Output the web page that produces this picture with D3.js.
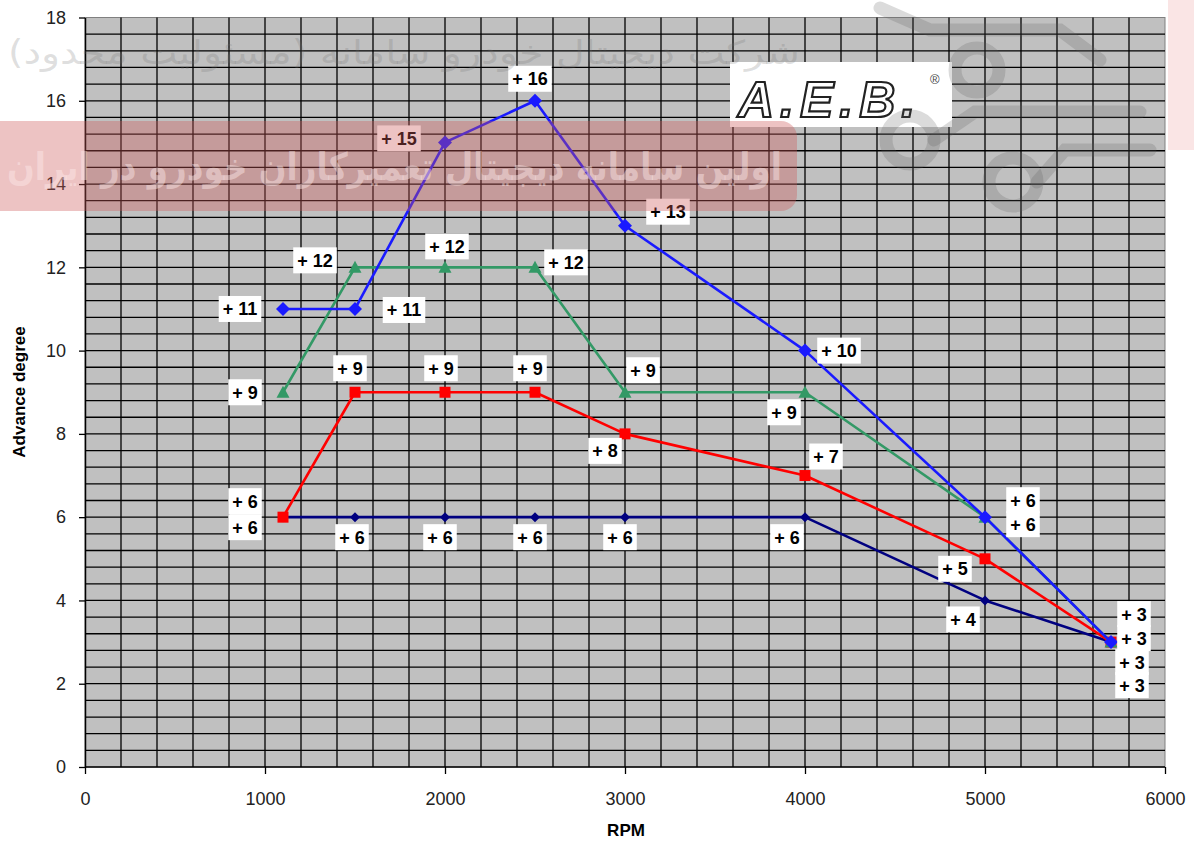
<!DOCTYPE html>
<html>
<head>
<meta charset="utf-8">
<script src="https://cdn.jsdelivr.net/npm/d3@7"></script>
<style>
  body { margin: 0; background: #fff; }
  svg { display: block; font-family: "Liberation Sans", Arial, sans-serif; }
</style>
</head>
<body>
<div id="chart"></div>
<script>
// ---- data ----
const rpm = [1100, 1500, 2000, 2500, 3000, 4000, 5000, 5700];
const advNavy  = [6, 6, 6, 6, 6, 6, 4, 3];
const advRed   = [6, 9, 9, 9, 8, 7, 5, 3];
const advGreen = [9, 12, 12, 12, 9, 9, 6, 3];
const advBlue  = [11, 11, 15, 16, 13, 10, 6, 3];
const xTicks = [0, 1000, 2000, 3000, 4000, 5000, 6000];
const yTicks = [0, 2, 4, 6, 8, 10, 12, 14, 16, 18];
const xTitle = "RPM";
const yTitle = "Advance degree";

// label placement around each point (px, layout only)
const offNavy  = [[-38, 10], [-3, 20], [-5, 20], [-5, 20], [-5, 20], [-18, 20], [-22, 19], [21, 43]];
const offRed   = [[-38, -16], [-5, -24], [-4, -24], [-5, -24], [-20, 17], [21, -19], [-30, 10], [21, 20]];
const offGreen = [[-38, 0], [-40, -7], [2, -21], [31, -5], [18, -22], [-21, 20], [38, 7], [23, -4]];
const offBlue  = [[-43, 0], [49, 1], [-46, -4], [-5, -22], [43, -14], [34, 0], [38, -17], [23, -28]];

const W = 1194, H = 844;
const svg = d3.select("#chart").append("svg").attr("width", W).attr("height", H);

const x = d3.scaleLinear().domain([0, 6000]).range([85, 1165]);
const y = d3.scaleLinear().domain([0, 18]).range([767, 17.5]);

// plot background
svg.append("rect")
  .attr("x", x(0)).attr("y", y(18))
  .attr("width", x(6000) - x(0)).attr("height", y(0) - y(18))
  .attr("fill", "#c0c0c0").attr("stroke", "#808080").attr("stroke-width", 1);

// grid (minor every 200 rpm / 0.4 deg)
const gx = d3.range(200, 6000, 200);
const gy = d3.range(1, 45).map(i => i * 0.4);
const grid = svg.append("g").attr("stroke", "#000").attr("stroke-width", 1.3);
grid.selectAll("line.v").data(gx).enter().append("line")
  .attr("x1", d => x(d)).attr("x2", d => x(d))
  .attr("y1", y(0)).attr("y2", y(18));
grid.selectAll("line.h").data(gy).enter().append("line")
  .attr("y1", d => y(d)).attr("y2", d => y(d))
  .attr("x1", x(0)).attr("x2", x(6000));

// axes
const xAxis = svg.append("g").attr("transform", `translate(0,${y(0)})`)
  .call(d3.axisBottom(x).tickValues(xTicks).tickFormat(d3.format("d"))
    .tickSize(7).tickPadding(18).tickSizeOuter(0));
const yAxis = svg.append("g").attr("transform", `translate(${x(0)},0)`)
  .call(d3.axisLeft(y).tickValues(yTicks).tickSize(6).tickPadding(13).tickSizeOuter(0));
[xAxis, yAxis].forEach(a => {
  a.selectAll("path.domain").attr("stroke", "#000").attr("stroke-width", 1.5);
  a.selectAll(".tick line").attr("stroke", "#000").attr("stroke-width", 1.3);
  a.selectAll("text").attr("font-size", 18).attr("fill", "#222")
    .attr("font-family", "'Liberation Sans', Arial, sans-serif");
});
xAxis.select("path.domain").attr("d", `M${x(0)},0H${x(6000)}`);

svg.append("text").attr("x", 626).attr("y", 836).attr("text-anchor", "middle")
  .attr("font-size", 17).attr("font-weight", "bold").text(xTitle);
svg.append("text").attr("transform", "translate(25,392) rotate(-90)").attr("text-anchor", "middle")
  .attr("font-size", 17).attr("font-weight", "bold").text(yTitle);

// series
const series = [
  { vals: advNavy,  offs: offNavy,  color: "#000080", marker: "navyDiamond" },
  { vals: advRed,   offs: offRed,   color: "#ff0000", marker: "square" },
  { vals: advGreen, offs: offGreen, color: "#339966", marker: "triangle" },
  { vals: advBlue,  offs: offBlue,  color: "#1a1aff", marker: "diamond" }
];

const markerPath = {
  navyDiamond: "M0,-5L5,0L0,5L-5,0Z",
  square: "M-5.5,-5.5H5.5V5.5H-5.5Z",
  triangle: "M0,-6.5L6.5,5.5H-6.5Z",
  diamond: "M0,-7L7,0L0,7L-7,0Z"
};

const line = d3.line().x(d => x(d[0])).y(d => y(d[1]));

series.forEach(s => {
  const pts = rpm.map((r, i) => [r, s.vals[i]]);
  svg.append("path").datum(pts).attr("d", line)
    .attr("fill", "none").attr("stroke", s.color).attr("stroke-width", 2.6)
    .attr("stroke-linejoin", "round");
  svg.append("g").selectAll("path").data(pts).enter().append("path")
    .attr("d", markerPath[s.marker])
    .attr("transform", d => `translate(${x(d[0])},${y(d[1])})`)
    .attr("fill", s.color);
});

// data labels
const labels = svg.append("g");
series.forEach(s => {
  rpm.forEach((r, i) => {
    const cx = x(r) + s.offs[i][0], cy = y(s.vals[i]) + s.offs[i][1];
    const g = labels.append("g").attr("transform", `translate(${cx},${cy})`);
    const box = g.append("rect").attr("fill", "#fff");
    const t = g.append("text").attr("text-anchor", "middle").attr("dy", "0.36em")
      .attr("font-size", 18).attr("font-weight", "bold").attr("fill", "#000")
      .text("+ " + s.vals[i]);
    const w = t.node().getComputedTextLength() + 8;
    box.attr("x", -w / 2).attr("y", -13).attr("width", w).attr("height", 26);
  });
});

// A.E.B. logo
const logo = svg.append("g");
logo.append("rect").attr("x", 730).attr("y", 62).attr("width", 222).attr("height", 65).attr("fill", "#fff");
logo.append("text").attr("x", 738).attr("y", 117)
  .attr("font-size", 50).attr("font-weight", "bold").attr("font-style", "italic")
  .attr("letter-spacing", 6).attr("fill", "#fff").attr("stroke", "#222").attr("stroke-width", 2.2)
  .text("A.E.B.");
logo.append("text").attr("x", 930).attr("y", 84).attr("font-size", 13).attr("fill", "#444").text("®");

// site watermark overlay
const wm = svg.append("g").attr("pointer-events", "none");
wm.append("text").attr("x", 800).attr("y", 64).attr("text-anchor", "end")
  .attr("font-family", "'DejaVu Sans', sans-serif").attr("font-size", 33)
  .attr("textLength", 792).attr("lengthAdjust", "spacingAndGlyphs")
  .attr("fill", "rgba(110,110,110,0.22)")
  .text("شرکت دیجیتال خودرو سامانه (مسئولیت محدود)");
wm.append("rect").attr("x", -30).attr("y", 121).attr("width", 827).attr("height", 90).attr("rx", 16)
  .attr("fill", "rgba(205,90,90,0.36)");
wm.append("text").attr("x", 782).attr("y", 180).attr("text-anchor", "end")
  .attr("font-family", "'DejaVu Sans', sans-serif").attr("font-size", 38).attr("font-weight", "bold")
  .attr("textLength", 775).attr("lengthAdjust", "spacingAndGlyphs")
  .attr("fill", "rgba(255,235,235,0.45)")
  .text("اولین سامانه دیجیتال تعمیرکاران خودرو در ایران");
const gear = wm.append("g").attr("fill", "none").attr("stroke", "rgba(90,90,90,0.22)")
  .attr("stroke-width", 13).attr("stroke-linecap", "round");
gear.append("circle").attr("cx", 977).attr("cy", 70).attr("r", 22);
gear.append("circle").attr("cx", 910).attr("cy", 140).attr("r", 24);
gear.append("circle").attr("cx", 1013).attr("cy", 182).attr("r", 24);
gear.append("path").attr("d", "M880,8L930,30H1060L1100,60");
gear.append("path").attr("d", "M934,140L975,112H1140");
gear.append("path").attr("d", "M1037,182L1065,150H1150");
wm.append("rect").attr("x", 1168).attr("y", 0).attr("width", 26).attr("height", 150)
  .attr("fill", "rgba(235,150,150,0.25)");
</script>
</body>
</html>
